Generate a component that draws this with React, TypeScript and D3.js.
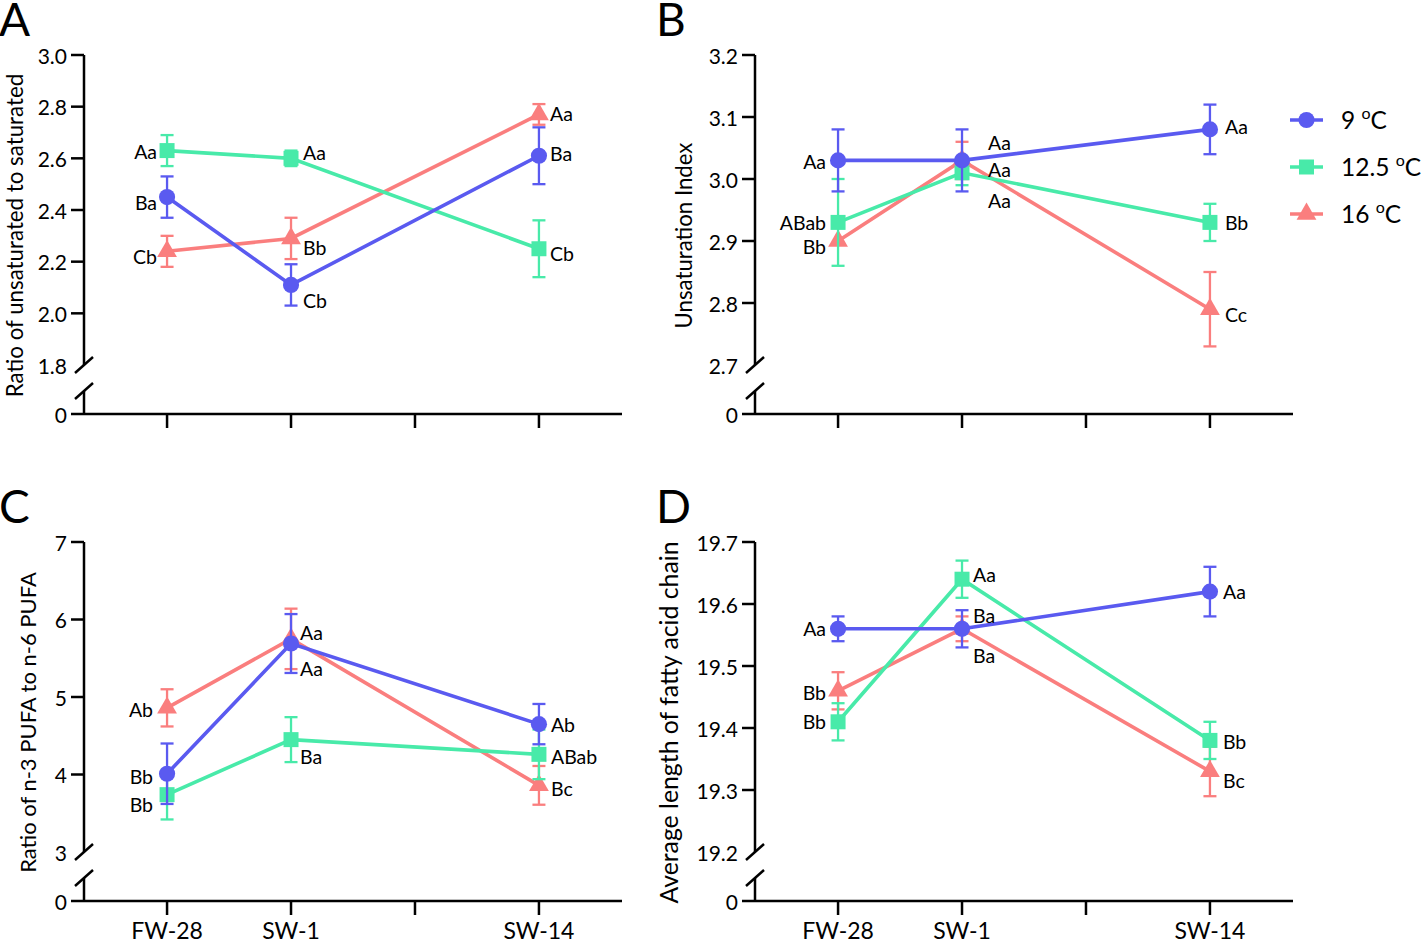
import React from 'react';
import * as d3 from 'd3';

// ---------- data ----------
const groupTemps = ['9', '12.5', '16'];
const groupColors = ['#5a5af0', '#48eaa9', '#fa7e7e'];
const xCategories = ['FW-28', 'SW-1', '', 'SW-14'];
const sampledIndex = [0, 1, 3];

// A: ratio of unsaturated to saturated
const usMean9 = [2.45, 2.11, 2.61];
const usSem9 = [0.08, 0.08, 0.11];
const usMean125 = [2.63, 2.6, 2.25];
const usSem125 = [0.06, 0.03, 0.11];
const usMean16 = [2.24, 2.29, 2.77];
const usSem16 = [0.06, 0.08, 0.04];
const usLetters9 = ['Ba', 'Cb', 'Ba'];
const usLetters125 = ['Aa', 'Aa', 'Cb'];
const usLetters16 = ['Cb', 'Bb', 'Aa'];
const usTicks = [1.8, 2.0, 2.2, 2.4, 2.6, 2.8, 3.0];

// B: unsaturation index
const uiMean9 = [3.03, 3.03, 3.08];
const uiSem9 = [0.05, 0.05, 0.04];
const uiMean125 = [2.93, 3.01, 2.93];
const uiSem125 = [0.07, 0.02, 0.03];
const uiMean16 = [2.9, 3.03, 2.79];
const uiSem16 = [0, 0.03, 0.06];
const uiLetters9 = ['Aa', 'Aa', 'Aa'];
const uiLetters125 = ['ABab', 'Aa', 'Bb'];
const uiLetters16 = ['Bb', 'Aa', 'Cc'];
const uiTicks = [2.7, 2.8, 2.9, 3.0, 3.1, 3.2];

// C: ratio n-3 / n-6 PUFA
const pMean9 = [4.01, 5.69, 4.65];
const pSem9 = [0.39, 0.38, 0.26];
const pMean125 = [3.74, 4.45, 4.26];
const pSem125 = [0.32, 0.29, 0.32];
const pMean16 = [4.86, 5.75, 3.86];
const pSem16 = [0.24, 0.39, 0.25];
const pLetters9 = ['Bb', 'Aa', 'Ab'];
const pLetters125 = ['Bb', 'Ba', 'ABab'];
const pLetters16 = ['Ab', 'Aa', 'Bc'];
const pTicks = [3, 4, 5, 6, 7];

// D: average chain length
const cMean9 = [19.56, 19.56, 19.62];
const cSem9 = [0.02, 0.03, 0.04];
const cMean125 = [19.41, 19.64, 19.38];
const cSem125 = [0.03, 0.03, 0.03];
const cMean16 = [19.46, 19.56, 19.33];
const cSem16 = [0.03, 0.02, 0.04];
const cLetters9 = ['Aa', 'Ba', 'Aa'];
const cLetters125 = ['Bb', 'Aa', 'Bb'];
const cLetters16 = ['Bb', 'Ba', 'Bc'];
const cTicks = [19.2, 19.3, 19.4, 19.5, 19.6, 19.7];

// ---------- layout (label placement offsets, px) ----------
const FONT = "Lato, 'Open Sans', sans-serif";

type PanelCfg = {
  letter: string;
  title: string;
  titleX: number;
  titleSize: number;
  ax: number;
  top: number;
  ticks: number[];
  tickFmt: (v: number) => string;
  means: number[][];
  sems: number[][];
  letters: string[][];
  labelDx: number[];
  labelDy: number[][];
  showX: boolean;
};

const panels: PanelCfg[] = [
  {
    letter: 'A', title: 'Ratio of unsaturated to saturated', titleX: 14, titleSize: 22.3, ax: 84, top: 55,
    ticks: usTicks, tickFmt: d3.format('.1f'),
    means: [usMean9, usMean125, usMean16], sems: [usSem9, usSem125, usSem16],
    letters: [usLetters9, usLetters125, usLetters16],
    labelDx: [-10, 12, 11],
    labelDy: [[5, 16, -2], [1, -6, 5], [5, 9, -1]],
    showX: false,
  },
  {
    letter: 'B', title: 'Unsaturation Index', titleX: 683, titleSize: 22.2, ax: 755, top: 55,
    ticks: uiTicks, tickFmt: d3.format('.1f'),
    means: [uiMean9, uiMean125, uiMean16], sems: [uiSem9, uiSem125, uiSem16],
    letters: [uiLetters9, uiLetters125, uiLetters16],
    labelDx: [-12, 26, 15],
    labelDy: [[1, -18, -3], [0, 28, 0], [5, 9, 5]],
    showX: false,
  },
  {
    letter: 'C', title: 'Ratio of n-3 PUFA to n-6 PUFA', titleX: 27, titleSize: 22, ax: 84, top: 542,
    ticks: pTicks, tickFmt: d3.format('d'),
    means: [pMean9, pMean125, pMean16], sems: [pSem9, pSem125, pSem16],
    letters: [pLetters9, pLetters125, pLetters16],
    labelDx: [-14, 9, 12],
    labelDy: [[3, -11, 0], [10, 17, 2], [2, 30, 3]],
    showX: true,
  },
  {
    letter: 'D', title: 'Average length of fatty acid chain', titleX: 668, titleSize: 24.8, ax: 755, top: 542,
    ticks: cTicks, tickFmt: d3.format('.1f'),
    means: [cMean9, cMean125, cMean16], sems: [cSem9, cSem125, cSem16],
    letters: [cLetters9, cLetters125, cLetters16],
    labelDx: [-12, 11, 13],
    labelDy: [[0, -13, 0], [0, -5, 1], [2, 27, 9]],
    showX: true,
  },
];

const symbolTypes = [d3.symbolCircle, d3.symbolSquare, d3.symbolTriangle];
const symbolSizes = [205, 225, 170];

function Marker({ k, x, y }: { k: number; x: number; y: number }) {
  const p = d3.symbol(symbolTypes[k], symbolSizes[k])() as string;
  return <path d={p} transform={`translate(${x},${y})`} fill={groupColors[k]} />;
}

function Panel({ cfg }: { cfg: PanelCfg }) {
  const ax = cfg.ax;
  const top = cfg.top;
  const upperH = 310;
  const zeroY = top + 359;
  const lowerStart = top + 336;
  const width = 538;
  const x = d3.scaleLinear().domain([-0.67, 3.67]).range([ax, ax + width]);
  const tmin = d3.min(cfg.ticks) as number;
  const tmax = d3.max(cfg.ticks) as number;
  const y = d3.scaleLinear().domain([tmin, tmax]).range([top + upperH, top]);
  const line = d3.line<[number, number]>().x((d) => d[0]).y((d) => d[1]);
  const breakY1 = top + upperH;
  const breakY2 = lowerStart;
  const order = [2, 1, 0];
  const titleCy = (top + zeroY) / 2 + 1;

  return (
    <g>
      <text x={ax === 84 ? -1 : 656} y={top - 19} fontSize={46} fontFamily={FONT}>{cfg.letter}</text>
      {/* y axis */}
      <line x1={ax} x2={ax} y1={top} y2={breakY1} stroke="#000" strokeWidth={2.5} />
      <line x1={ax} x2={ax} y1={breakY2} y2={zeroY} stroke="#000" strokeWidth={2.5} />
      <line x1={ax - 9} y1={breakY1 + 8} x2={ax + 9} y2={breakY1 - 8} stroke="#000" strokeWidth={2.5} />
      <line x1={ax - 9} y1={breakY2 + 8} x2={ax + 9} y2={breakY2 - 8} stroke="#000" strokeWidth={2.5} />
      {cfg.ticks.map((t) => (
        <g key={t}>
          {t !== tmin && (
            <line x1={ax - 13} x2={ax} y1={y(t)} y2={y(t)} stroke="#000" strokeWidth={2.5} />
          )}
          <text x={ax - 17} y={y(t)} textAnchor="end" dominantBaseline="central" fontSize={21} fontFamily={FONT}>
            {cfg.tickFmt(t)}
          </text>
        </g>
      ))}
      <text x={ax - 17} y={zeroY} textAnchor="end" dominantBaseline="central" fontSize={21} fontFamily={FONT}>0</text>
      {/* x axis */}
      <line x1={ax - 13} x2={ax + width} y1={zeroY} y2={zeroY} stroke="#000" strokeWidth={2.5} />
      {xCategories.map((c, i) => (
        <g key={i}>
          <line x1={x(i)} x2={x(i)} y1={zeroY} y2={zeroY + 14} stroke="#000" strokeWidth={2.5} />
          {cfg.showX && c && (
            <text x={x(i)} y={zeroY + 38} textAnchor="middle" fontSize={23} fontFamily={FONT}>{c}</text>
          )}
        </g>
      ))}
      <text
        transform={`translate(${cfg.titleX},${titleCy}) rotate(-90)`}
        textAnchor="middle"
        dominantBaseline="central"
        fontSize={cfg.titleSize}
        fontFamily={FONT}
      >
        {cfg.title}
      </text>
      {/* series */}
      {order.map((k) => {
        const pts: [number, number][] = cfg.means[k].map((m, j) => [x(sampledIndex[j]), y(m)]);
        return (
          <g key={k}>
            <path d={line(pts) as string} fill="none" stroke={groupColors[k]} strokeWidth={3.6} />
            {cfg.means[k].map((m, j) => {
              const s = cfg.sems[k][j];
              if (!s) return null;
              const cx = x(sampledIndex[j]);
              return (
                <g key={j} stroke={groupColors[k]} strokeWidth={2.3}>
                  <line x1={cx} x2={cx} y1={y(m - s)} y2={y(m + s)} />
                  <line x1={cx - 6.5} x2={cx + 6.5} y1={y(m - s)} y2={y(m - s)} />
                  <line x1={cx - 6.5} x2={cx + 6.5} y1={y(m + s)} y2={y(m + s)} />
                </g>
              );
            })}
            {cfg.means[k].map((m, j) => (
              <Marker key={'m' + j} k={k} x={x(sampledIndex[j])} y={y(m)} />
            ))}
          </g>
        );
      })}
      {order.map((k) =>
        cfg.means[k].map((m, j) => (
          <text
            key={`l${k}-${j}`}
            x={x(sampledIndex[j]) + cfg.labelDx[j]}
            y={y(m) + cfg.labelDy[k][j]}
            textAnchor={j === 0 ? 'end' : 'start'}
            dominantBaseline="central"
            fontSize={19.5}
            fontFamily={FONT}
          >
            {cfg.letters[k][j]}
          </text>
        ))
      )}
    </g>
  );
}

function Legend() {
  const ys = [120, 167, 214];
  return (
    <g>
      {groupTemps.map((t, k) => (
        <g key={t}>
          <line x1={1290} x2={1323} y1={ys[k]} y2={ys[k]} stroke={groupColors[k]} strokeWidth={3.6} />
          <Marker k={k} x={1306.5} y={ys[k]} />
          <text x={1341} y={ys[k] + 9} fontSize={24.5} fontFamily={FONT}>
            {t + ' '}
            <tspan dy={-10} fontSize={16}>o</tspan>
            <tspan dy={10}>C</tspan>
          </text>
        </g>
      ))}
    </g>
  );
}

export default function App() {
  return (
    <svg
      width={1422}
      height={942}
      style={{ position: 'fixed', left: 0, top: 0, background: '#fff' }}
    >
      <rect x={0} y={0} width={1422} height={942} fill="#fff" />
      {panels.map((p) => (
        <Panel key={p.letter} cfg={p} />
      ))}
      <Legend />
    </svg>
  );
}
